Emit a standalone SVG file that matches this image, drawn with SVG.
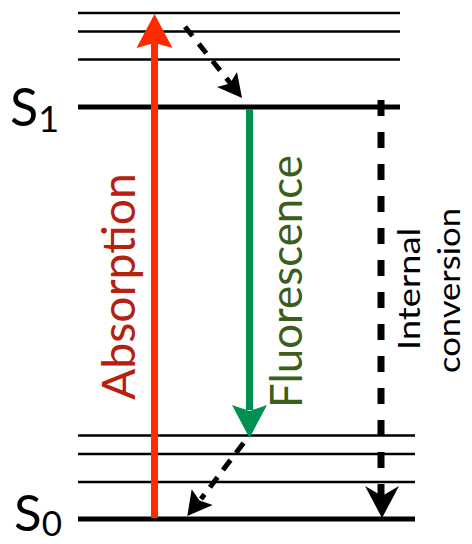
<svg xmlns="http://www.w3.org/2000/svg" width="472" height="544" viewBox="0 0 472 544">
<style>
  .thin { stroke: #000; stroke-width: 2.5; fill: none; }
  .thick { stroke: #000; stroke-width: 5; fill: none; }
  .lbl { font-family: Lato, "Open Sans", "DejaVu Sans", sans-serif; fill: #000; }
  .big { font-family: Lato, "Open Sans", "DejaVu Sans", sans-serif; }
  .dot { stroke: #000; stroke-width: 5; fill: none; }
  .ic { stroke: #000; stroke-width: 7; fill: none; stroke-dasharray: 16 16; }
</style>
<rect width="472" height="544" fill="#fff"/>
<g id="S1-level">
  <line class="thin" x1="78" y1="13" x2="400" y2="13"/>
  <line class="thin" x1="78" y1="31.5" x2="400" y2="31.5"/>
  <line class="thin" x1="78" y1="59.5" x2="400" y2="59.5"/>
  <line class="thick" x1="78" y1="107" x2="400" y2="107"/>
  <text class="lbl" x="10" y="126" font-size="52">S<tspan font-size="36" dy="6">1</tspan></text>
</g>
<g id="S0-level">
  <line class="thin" x1="78" y1="435.5" x2="415" y2="435.5"/>
  <line class="thin" x1="78" y1="454" x2="415" y2="454"/>
  <line class="thin" x1="78" y1="482" x2="415" y2="482"/>
  <line class="thick" x1="78" y1="519" x2="415" y2="519"/>
  <text class="lbl" x="14" y="531" font-size="51">S<tspan font-size="35" dy="5">0</tspan></text>
</g>
<g id="connectors">
  <g id="absorption">
    <line x1="154.5" y1="518" x2="154.5" y2="40" stroke="#ff2a00" stroke-width="7"/>
    <polygon points="154.5,14 172.5,48 154.5,43 136.5,48" fill="#ff2a00"/>
    <text class="big" transform="translate(135,286.5) rotate(-90)" text-anchor="middle" font-size="46" fill="#b5200f" textLength="227" lengthAdjust="spacingAndGlyphs">Absorption</text>
  </g>
  <g id="fluorescence">
    <line x1="249.5" y1="109" x2="249.5" y2="410" stroke="#009051" stroke-width="7"/>
    <polygon points="249.5,438 267,405 249.5,411 232,405" fill="#009051"/>
    <text class="big" transform="translate(302,281.5) rotate(-90)" text-anchor="middle" font-size="45" fill="#3d5e1a" textLength="253" lengthAdjust="spacingAndGlyphs">Fluorescence</text>
  </g>
  <g id="vibrational-relaxation-S1">
    <line class="dot" x1="185" y1="26.7" x2="231" y2="84" stroke-dasharray="12 10"/>
    <polygon points="242,98 217,87 230,83.5 237,72" fill="#000"/>
  </g>
  <g id="vibrational-relaxation-S0">
    <line class="dot" x1="243.5" y1="443" x2="201" y2="499" stroke-dasharray="12.5 9"/>
    <polygon points="187.3,516 191.7,489.3 199.5,500.5 212.7,505" fill="#000"/>
  </g>
  <g id="internal-conversion">
    <line class="ic" x1="381" y1="100" x2="381" y2="497"/>
    <polygon points="382,518 365,486 382,496 399,486" fill="#000"/>
    <text class="lbl" transform="translate(420,289) rotate(-90)" text-anchor="middle" font-size="30" textLength="122" lengthAdjust="spacingAndGlyphs">Internal</text>
    <text class="lbl" transform="translate(460,290.5) rotate(-90)" text-anchor="middle" font-size="30" textLength="165" lengthAdjust="spacingAndGlyphs">conversion</text>
  </g>
</g>
</svg>
